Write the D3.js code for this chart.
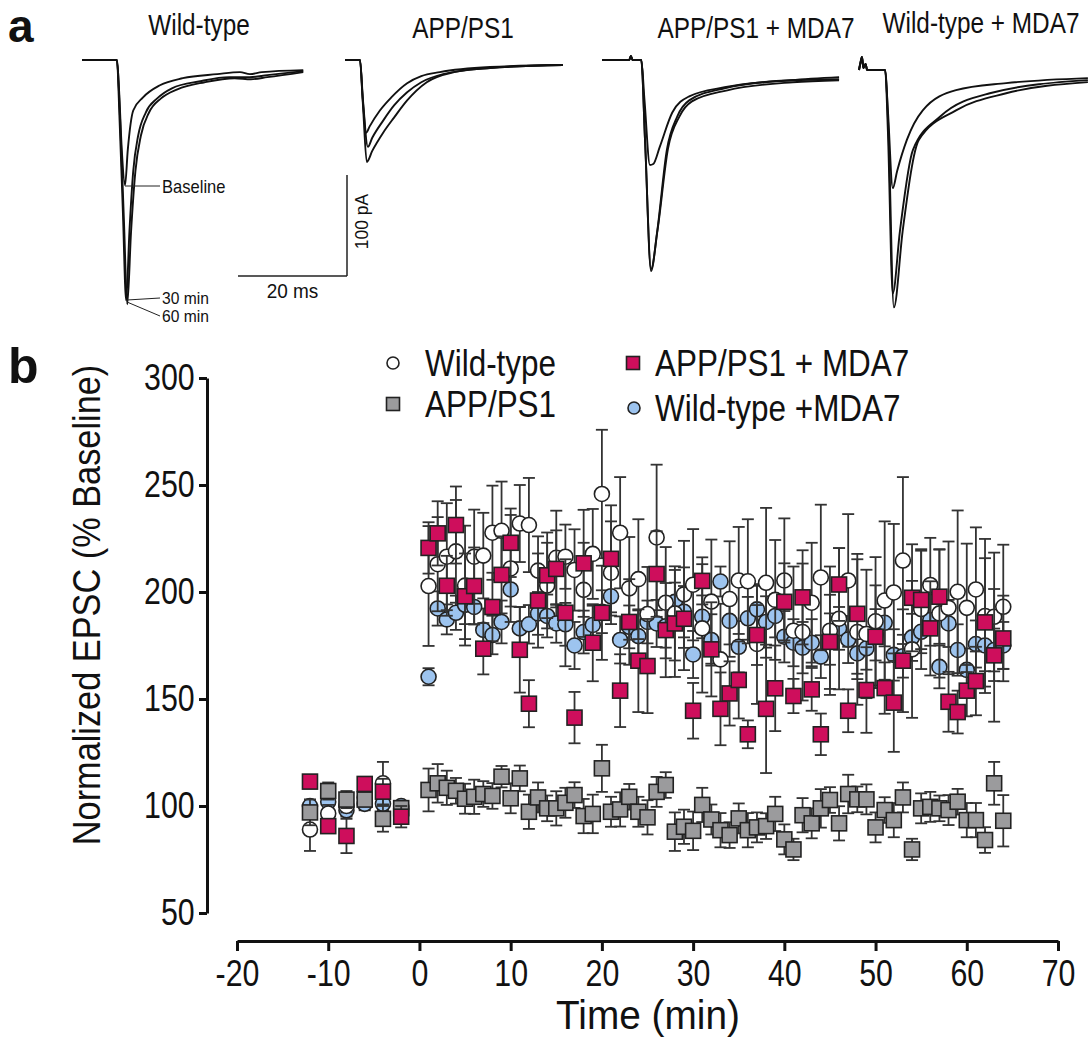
<!DOCTYPE html>
<html>
<head>
<meta charset="utf-8">
<title>Normalized EPSC</title>
<script src="https://d3js.org/d3.v7.min.js"></script>
<style>
  body { margin: 0; background: #fff; }
  svg text { font-family: "Liberation Sans", Arial, Helvetica, sans-serif; fill: #111; }
  .axis path, .axis line { stroke: #111; stroke-width: 3px; }
  .trace { fill: none; stroke: #111; stroke-width: 1.9px; stroke-linejoin: round; }
  .thin { stroke: #222; stroke-width: 1px; fill: none; }
  .bar { stroke: #333; stroke-width: 1.8px; }
  .mk { stroke: #222; stroke-width: 1.6px; }
</style>
</head>
<body>
<script>
// ---- panel b data ----
var times = [-12, -10, -8, -6, -4, -2,
  1, 2, 3, 4, 5, 6, 7, 8, 9, 10, 11, 12, 13, 14, 15, 16, 17, 18, 19, 20,
  21, 22, 23, 24, 25, 26, 27, 28, 29, 30, 31, 32, 33, 34, 35, 36, 37, 38, 39, 40,
  41, 42, 43, 44, 45, 46, 47, 48, 49, 50, 51, 52, 53, 54, 55, 56, 57, 58, 59, 60,
  61, 62, 63, 64];

var wtMean = [89, 96.5, 100, 104, 110.6, 99,
  202.8, 213, 216.5, 219, 203, 216.5, 217, 227.7, 228.6, 211,
  232, 231.3, 210, 203, 216, 216.5, 210.3, 201, 217.8, 245.8,
  209, 227.7, 201.7, 206, 189.7, 225.5, 195, 190, 198.9, 203.4,
  183, 195.5, 168.5, 196.7, 205.4, 205, 175.7, 204.3, 196.3, 205.4,
  181.9, 181.3, 195, 206.8, 181.9, 187.5, 205.4, 181.3, 180.4, 186.3,
  196, 199.8, 214.7, 173.2, 192, 203.3, 190, 192.6, 200.1, 192.6,
  201.2, 188.8, 188.4, 193.1];
var wtErr = [10, 4, 3, 3, 10, 3,
  28, 22, 25, 24, 28, 22, 20, 22, 23, 25,
  18, 22, 16, 20, 22, 15, 19, 22, 21, 30,
  24, 26, 24, 28, 22, 34, 26, 22, 25, 26,
  30, 29, 26, 27, 25, 29, 28, 35, 28, 29,
  30, 32, 28, 34, 30, 33, 31, 34, 30, 30,
  37, 32, 39, 32, 28, 22, 30, 31, 38, 30,
  29, 36, 30, 29];

var appMean = [97, 107, 103, 103, 94, 99,
  107.5, 110.6, 108.5, 107.1, 103.4, 104.3, 105.6, 104.7, 113.7, 103.6,
  112.9, 97.3, 104, 98.9, 98.9, 101.5, 105.1, 95.3, 96.3, 117.6,
  97.3, 98.4, 104.3, 97.3, 94.7, 106.6, 109.8, 88, 90.3, 88.4,
  100.5, 93.7, 88.7, 86.4, 94.2, 88.7, 90, 90.6, 96.3, 84.4,
  79.7, 95.7, 91.9, 98.9, 102.8, 91.9, 105.6, 103.1, 103.1, 90,
  98.1, 93.4, 104, 79.7, 98.9, 99.6, 98.9, 98.1, 102, 93.4,
  93.4, 84.1, 110.6, 93.1];
var appErr = [6, 4, 4, 3, 6, 3,
  10, 9, 8, 6, 7, 8, 6, 6, 5, 7,
  6, 8, 7, 6, 8, 7, 6, 8, 9, 11,
  7, 8, 6, 7, 8, 7, 6, 9, 8, 9,
  8, 7, 8, 6, 7, 8, 7, 6, 8, 7,
  5, 8, 7, 9, 6, 8, 9, 6, 7, 7,
  6, 8, 7, 5, 7, 7, 6, 7, 6, 8,
  8, 6, 10, 12];

var appMdaMean = [111.4, 90.6, 86, 110.3, 106.7, 95,
  220.6, 227.4, 202.9, 231.3, 198, 202.8, 173.5, 193, 208, 223,
  173, 147.8, 196, 207.8, 210.8, 190.3, 141.3, 213.4, 176.3, 190.3,
  215.5, 153.9, 186, 167.9, 165.4, 208.4, 182.2, 185.3, 187.5, 144.5,
  205.2, 173.2, 145.4, 152.6, 158.9, 133.5, 179.9, 145.4, 155, 195.4,
  151.4, 197.5, 154.5, 133.5, 176.7, 203.5, 144.5, 189.8, 154.2, 179.1,
  155.1, 148.3, 167.9, 197.3, 196.3, 183, 197.8, 148.7, 143.9, 153.9,
  158.4, 185.8, 170.4, 178.3];
var appMdaErr = [3, 3, 8, 3, 6, 5,
  12, 15, 14, 18, 20, 18, 12, 16, 18, 16,
  20, 11, 22, 20, 18, 25, 12, 25, 18, 22,
  25, 17, 20, 24, 22, 20, 22, 25, 24, 13,
  11, 22, 17, 15, 18, 6.5, 14, 30, 20, 18,
  8, 22, 10, 9.7, 22, 17, 10, 28, 20, 24,
  12, 23, 24, 25, 23, 22, 22, 14, 10, 12,
  16, 30, 31, 20];

var wtMdaMean = [100, 102, 98, 101, 101, 100,
  160.4, 192.3, 187.2, 190.3, 194, 193, 182.3, 179.9, 186, 201.2,
  183, 184.9, 190, 188.8, 185.3, 184.9, 175, 181.3, 184.6, 190.8,
  198, 177.6, 183.7, 179.4, 186, 185.3, 184, 195.4, 190.8, 170.8,
  188.4, 177.6, 204.9, 186.5, 174.4, 187.7, 191.9, 186, 188.8, 179.1,
  176.3, 174, 176.3, 169.8, 178, 183, 177.8, 171.3, 173.7, 180,
  185.6, 170.6, 170, 178.8, 181.4, 186.9, 165, 185.3, 172.9, 163.6,
  175.7, 175, 172.9, 175];
var wtMdaErr = [3, 2, 3, 3, 3, 2,
  4, 8, 7, 8, 9, 8, 10, 9, 10, 8,
  10, 9, 10, 10, 9, 10, 11, 10, 9, 10,
  9, 11, 10, 12, 10, 11, 10, 9, 12, 11,
  10, 12, 7, 11, 12, 10, 11, 12, 10, 12,
  11, 12, 11, 10, 12, 10, 11, 12, 10, 12,
  11, 12, 10, 11, 10, 12, 10, 11, 12, 10,
  11, 12, 10, 11];

var xTicks = [-20, -10, 0, 10, 20, 30, 40, 50, 60, 70];
var yTicks = [50, 100, 150, 200, 250, 300];

// ---- panel a traces: [ms, pA] points ----
var wtBase = [[0,0],[6.4,0],[6.8,-30],[7.3,-89],[7.9,-124],[8.4,-89],[9.4,-50],[11.2,-37],[14.3,-25],[18.5,-18],[24.8,-14],[29,-12],[30.8,-14],[33,-12],[40.6,-10]];
var wt30 = [[0,0],[6.4,0],[6.9,-60],[7.5,-150],[8.1,-238],[8.7,-170],[9.4,-110],[10.3,-75],[11.7,-52],[13.8,-38],[16.5,-28],[21.7,-21],[27,-17],[30.8,-17],[34,-15],[40.6,-11]];
var wt60 = [[0,0],[6.4,0],[7.0,-60],[7.7,-160],[8.3,-242],[9.0,-170],[9.8,-110],[10.8,-75],[12.3,-52],[14.5,-38],[17.5,-29],[22.5,-22],[28,-18],[31,-19],[34,-17],[40.6,-12]];
var appA = [[0,0],[2.75,0],[3.2,-35],[3.9,-72],[4.5,-66],[6.4,-50],[8.5,-37],[11.4,-23],[14,-16],[17.4,-12],[26.6,-7],[40,-5]];
var appB = [[0,0],[2.75,0],[3.3,-40],[4.2,-86],[5,-77],[7,-60],[9,-45],[11.4,-32],[14,-22],[18,-14],[26.6,-8],[40,-5]];
var appC = [[0,0],[2.75,0],[3.3,-45],[4.0,-101],[5,-90],[7,-72],[9,-57],[11.4,-40],[15,-22],[20,-12],[26.6,-8],[40,-5]];
var appMdaBase = [[0,0],[5,0],[5.3,4],[5.6,0],[7.2,0],[7.8,-40],[8.8,-104],[9.4,-103],[10.6,-86],[12.9,-52],[16,-36],[22.5,-27],[34.7,-20],[43.5,-17]];
var appMda30 = [[0,0],[5,0],[5.3,4],[5.6,0],[7.2,0],[7.9,-80],[9.0,-209],[10.1,-171],[11.9,-89],[13.8,-56],[16,-40],[22.5,-28],[34.7,-20],[43.5,-19]];
var appMda60 = [[0,0],[5,0],[5.3,4],[5.6,0],[7.2,0],[7.9,-80],[9.0,-207],[10.2,-168],[12.1,-88],[14.2,-56],[16.5,-41],[23,-30],[35,-22],[43.5,-20]];
var wtMdaBase = [[0,0],[0.3,8],[0.55,13],[0.8,2],[1.2,6],[1.5,0],[4.8,0],[5.3,-40],[6.2,-117],[7.0,-100],[8.8,-69],[11.7,-40],[17.8,-20],[27,-13],[42,-8]];
var wtMda30 = [[0,0],[0.3,8],[0.55,13],[0.8,2],[1.2,6],[1.5,0],[4.8,0],[5.3,-60],[6.2,-221],[7.5,-160],[9.9,-79],[14.9,-46],[24,-23],[42,-10]];
var wtMda60 = [[0,0],[0.3,8],[0.55,13],[0.8,2],[1.2,6],[1.5,0],[4.8,0],[5.4,-60],[6.4,-235],[8,-160],[11,-69],[17.8,-40],[27,-23],[42,-12]];

var width = 1089, height = 1037;

var svg = d3.select("body").append("svg")
    .attr("width", width)
    .attr("height", height);

// condensed text: the original uses a narrow sans, so squeeze horizontally
function label(parent, x, y, s, size, sx, anchor, rot) {
  return parent.append("text")
      .attr("transform", "translate(" + x + "," + y + ")" + (rot ? " rotate(" + rot + ")" : "") + " scale(" + sx + ",1)")
      .attr("text-anchor", anchor || "start")
      .style("font-size", size + "px")
      .text(s);
}

// ---------- panel a ----------
var msScale = d3.scaleLinear().domain([0, 20]).range([0, 109]);
var pAScale = d3.scaleLinear().domain([0, -100]).range([0, 101]);

var panels = [
  {title: "Wild-type", tx: 199, ty: 35, x0: 82, y0: 60, traces: [wtBase, wt30, wt60]},
  {title: "APP/PS1", tx: 463, ty: 38, x0: 345, y0: 60, traces: [appA, appB, appC]},
  {title: "APP/PS1 + MDA7", tx: 756, ty: 38, x0: 602, y0: 60, traces: [appMdaBase, appMda30, appMda60]},
  {title: "Wild-type + MDA7", tx: 981, ty: 33, x0: 859, y0: 70, traces: [wtMdaBase, wtMda30, wtMda60]}
];

var traceLine = d3.line()
    .x(function(d) { return msScale(d[0]); })
    .y(function(d) { return pAScale(d[1]); })
    .curve(d3.curveMonotoneX);

svg.append("text").attr("x", 8).attr("y", 42)
    .style("font-weight", "bold").style("font-size", "46px").text("a");

panels.forEach(function(p) {
  label(svg, p.tx, p.ty, p.title, 29, 0.84, "middle");
  var g = svg.append("g").attr("transform", "translate(" + p.x0 + "," + p.y0 + ")");
  g.selectAll("path").data(p.traces).enter().append("path")
      .attr("class", "trace")
      .attr("d", traceLine);
});

// trace labels (wild-type panel)
var ann = svg.append("g");
ann.append("line").attr("class", "thin").attr("x1", 125).attr("y1", 186).attr("x2", 160).attr("y2", 186);
ann.append("line").attr("class", "thin").attr("x1", 127).attr("y1", 300).attr("x2", 160).attr("y2", 298);
ann.append("line").attr("class", "thin").attr("x1", 127).attr("y1", 302).attr("x2", 160).attr("y2", 316);
label(ann, 162, 193, "Baseline", 18, 0.92);
label(ann, 162, 304, "30 min", 17, 0.92);
label(ann, 162, 322, "60 min", 17, 0.92);

// scale bar: 20 ms, 100 pA
var sb = svg.append("g").attr("transform", "translate(347,276)");
sb.append("line").attr("class", "thin").style("stroke-width", "1.5px")
    .attr("x1", -msScale(20)).attr("y1", 0).attr("x2", 0).attr("y2", 0);
sb.append("line").attr("class", "thin").style("stroke-width", "1.5px")
    .attr("x1", 0).attr("y1", 0).attr("x2", 0).attr("y2", -pAScale(-100));
label(sb, -msScale(20) / 2, 22, "20 ms", 20, 0.95, "middle");
label(sb, 21, -pAScale(-100) / 2 - 4, "100 pA", 19, 0.92, "middle", -90);

// ---------- panel b ----------
var x = d3.scaleLinear().domain([-20, 70]).range([237, 1058]);
var y = d3.scaleLinear().domain([50, 300]).range([913, 378]);

svg.append("text").attr("x", 8).attr("y", 383)
    .style("font-weight", "bold").style("font-size", "50px").text("b");

var gy = svg.append("g").attr("class", "axis")
    .attr("transform", "translate(207,0)")
    .call(d3.axisLeft(y).tickValues(yTicks).tickSize(8).tickPadding(7).tickSizeOuter(0));
gy.selectAll("text").style("font-size", "37px").attr("transform", "scale(0.82,1)");

var gx = svg.append("g").attr("class", "axis")
    .attr("transform", "translate(0,941)")
    .call(d3.axisBottom(x).tickValues(xTicks).tickSize(10).tickPadding(9).tickSizeOuter(0)
      .tickFormat(function(d) { return String(d); }));
gx.selectAll("text").style("font-size", "37px").attr("transform", "scale(0.82,1)");

label(svg, 100, 605, "Normalized EPSC (% Baseline)", 39, 0.88, "middle", -90);
label(svg, 648, 1029, "Time (min)", 40, 0.97, "middle");

var series = [
  {name: "Wild-type +MDA7", mean: wtMdaMean, err: wtMdaErr, shape: "circle", fill: "#9DC4EF"},
  {name: "Wild-type", mean: wtMean, err: wtErr, shape: "circle", fill: "#ffffff"},
  {name: "APP/PS1", mean: appMean, err: appErr, shape: "square", fill: "#9B9B9D"},
  {name: "APP/PS1 + MDA7", mean: appMdaMean, err: appMdaErr, shape: "square", fill: "#CE0E5C"}
];

function drawMarker(sel, shape, fill, size) {
  if (shape === "circle") {
    sel.append("circle").attr("class", "mk").attr("r", size / 2).attr("fill", fill);
  } else {
    sel.append("rect").attr("class", "mk")
        .attr("x", -size / 2).attr("y", -size / 2)
        .attr("width", size).attr("height", size).attr("fill", fill);
  }
}

series.forEach(function(s) {
  var pts = times.map(function(t, i) { return {t: t, m: s.mean[i], e: s.err[i]}; });
  var g = svg.append("g");
  var bars = g.selectAll(".eb").data(pts).enter().append("g").attr("class", "eb");
  bars.append("line").attr("class", "bar")
      .attr("x1", function(d) { return x(d.t); }).attr("x2", function(d) { return x(d.t); })
      .attr("y1", function(d) { return y(d.m - d.e); }).attr("y2", function(d) { return y(d.m + d.e); });
  bars.append("line").attr("class", "bar")
      .attr("x1", function(d) { return x(d.t) - 6; }).attr("x2", function(d) { return x(d.t) + 6; })
      .attr("y1", function(d) { return y(d.m + d.e); }).attr("y2", function(d) { return y(d.m + d.e); });
  bars.append("line").attr("class", "bar")
      .attr("x1", function(d) { return x(d.t) - 6; }).attr("x2", function(d) { return x(d.t) + 6; })
      .attr("y1", function(d) { return y(d.m - d.e); }).attr("y2", function(d) { return y(d.m - d.e); });
  var mk = g.selectAll(".pt").data(pts).enter().append("g").attr("class", "pt")
      .attr("transform", function(d) { return "translate(" + x(d.t) + "," + y(d.m) + ")"; });
  drawMarker(mk, s.shape, s.fill, 15);
});

// legend
var legend = [
  {s: series[1], x: 393, y: 363, dx: 32},
  {s: series[2], x: 393, y: 404, dx: 32},
  {s: series[3], x: 633, y: 363, dx: 22},
  {s: series[0], x: 634, y: 408, dx: 21}
];
legend.forEach(function(l) {
  var g = svg.append("g").attr("transform", "translate(" + l.x + "," + l.y + ")");
  drawMarker(g, l.s.shape, l.s.fill, l.s.shape === "circle" ? 12 : 13);
  label(g, l.dx, 13, l.s.name, 37, 0.85);
});
</script>
</body>
</html>
